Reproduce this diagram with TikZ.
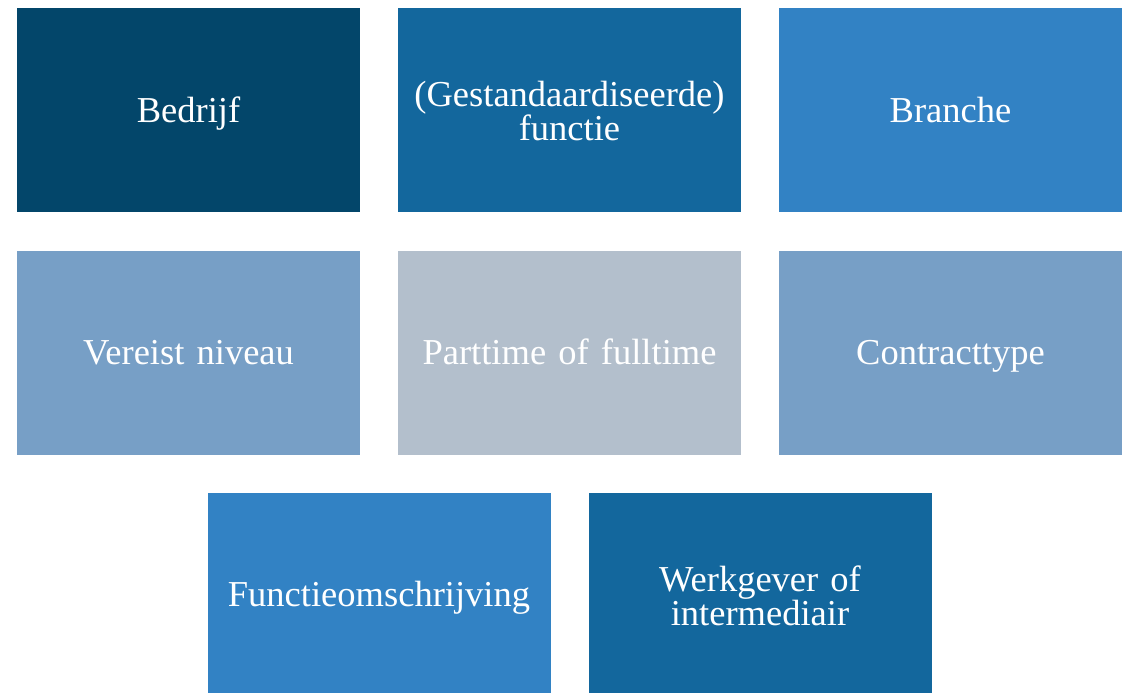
\documentclass[tikz,border=0pt]{standalone}
\usepackage{fontspec}
\setmainfont{Liberation Serif}
\definecolor{cA}{HTML}{03466A}
\definecolor{cB}{HTML}{13679D}
\definecolor{cC}{HTML}{3282C4}
\definecolor{cD}{HTML}{779FC6}
\definecolor{cE}{HTML}{B3BFCC}
\begin{document}
\begin{tikzpicture}[x=1pt,y=-1pt,
  box/.style={rectangle,minimum width=343pt,minimum height=204pt,inner sep=0pt,
    text=white,align=center,font=\fontsize{36.5}{31}\selectfont,text width=335pt,
    text height=24pt,text depth=0pt},
  twoline/.style={text depth=31pt},
]
\useasboundingbox (0,0) rectangle (1133,693);
\node[box,fill=cA] (bedrijf) at (188.5,110) {Bedrijf};
\node[box,twoline,fill=cB] (functie) at (569.5,110) {(Gestandaardiseerde)\\functie};
\node[box,fill=cC] (branche) at (950.5,110) {Branche};
\node[box,fill=cD] (niveau) at (188.5,352.5) {Vereist niveau};
\node[box,fill=cE] (parttime) at (569.5,352.5) {Parttime of fulltime};
\node[box,fill=cD] (contract) at (950.5,352.5) {Contracttype};
\node[box,fill=cC] (omschrijving) at (379,594.5) {Functieomschrijving};
\node[box,twoline,fill=cB] (werkgever) at (760,594.5) {Werkgever of\\intermediair};
\end{tikzpicture}
\end{document}
